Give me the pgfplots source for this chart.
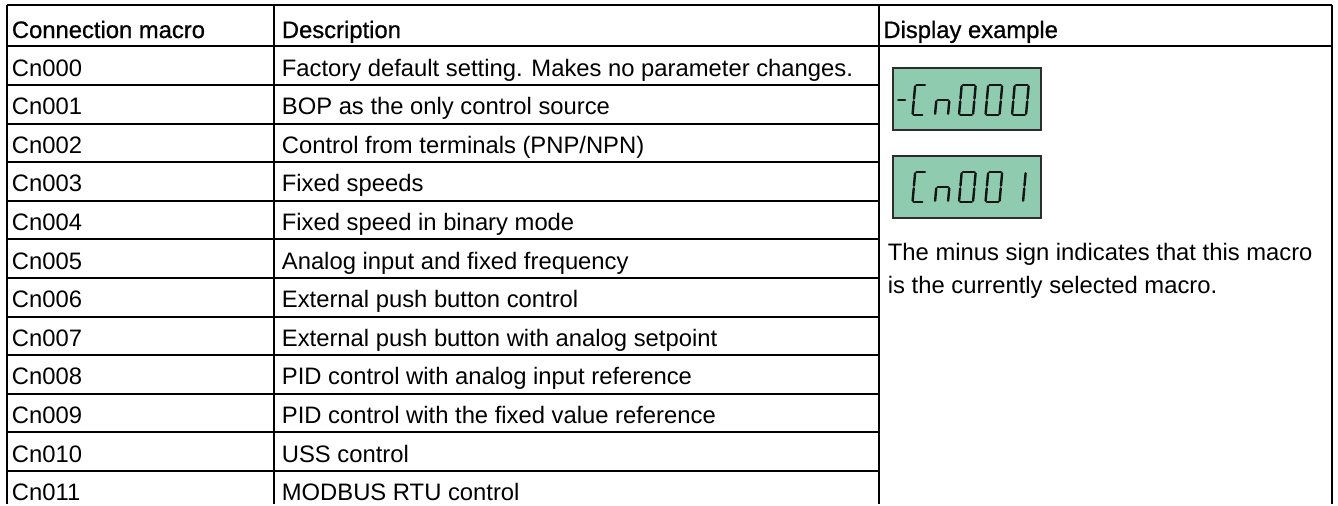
\documentclass[border=0pt]{standalone}
\usepackage{fontspec}
\setmainfont{Liberation Sans}
\newfontfamily\hdr{Liberation Sans}[FakeBold=0.8]
\usepackage{pgfplots}
\pgfplotsset{compat=1.18}
\definecolor{lcd}{RGB}{143,203,174}
\definecolor{lcdedge}{RGB}{45,45,45}
\definecolor{segc}{RGB}{20,20,20}
\tikzset{segstyle/.style={segc,line width=1.2pt,line cap=round}}
% one segment: x0, ybottom, u1, v1, u2, v2 (slanted)
\newcommand{\seg}[6]{\draw[segstyle] (axis cs:{#1+(#3)+0.09*(#4)},{#2-(#4)}) -- (axis cs:{#1+(#5)+0.09*(#6)},{#2-(#6)});}
\newcommand{\sA}[3]{\seg{#1}{#2}{1.3}{30}{#3-1.3}{30}}
\newcommand{\sB}[3]{\seg{#1}{#2}{#3}{28.7}{#3}{16.3}}
\newcommand{\sC}[3]{\seg{#1}{#2}{#3}{13.7}{#3}{1.3}}
\newcommand{\sD}[3]{\seg{#1}{#2}{1.3}{0}{#3-1.3}{0}}
\newcommand{\sE}[3]{\seg{#1}{#2}{0}{13.7}{0}{1.3}}
\newcommand{\sF}[3]{\seg{#1}{#2}{0}{28.7}{0}{16.3}}
\newcommand{\sG}[3]{\seg{#1}{#2}{1.3}{15}{#3-1.3}{15}}
\newcommand{\gZero}[2]{\sA{#1}{#2}{14}\sB{#1}{#2}{14}\sC{#1}{#2}{14}\sD{#1}{#2}{14}\sE{#1}{#2}{14}\sF{#1}{#2}{14}}
\newcommand{\gC}[2]{\sA{#1}{#2}{11}\sD{#1}{#2}{11}\sE{#1}{#2}{11}\sF{#1}{#2}{11}}
\newcommand{\gn}[2]{\sG{#1}{#2}{13}\sE{#1}{#2}{13}\sC{#1}{#2}{13}}
\newcommand{\gOne}[2]{\sB{#1}{#2}{11}\sC{#1}{#2}{11}}
\newcommand{\gMinus}[2]{\sG{#1}{#2}{9.5}}
\newcommand{\cell}[3]{\node[anchor=base west,inner sep=0pt] at (axis cs:#1,#2) {#3};}
\begin{document}
\begin{tikzpicture}[font=\fontsize{11.9}{16.5}\selectfont]
\begin{axis}[width=669pt,height=252pt,scale only axis,
  xmin=0,xmax=1338,ymin=0,ymax=504,y dir=reverse,hide axis,clip=false]
\path (axis cs:0,0) rectangle (axis cs:1338,504);
% table rules
\draw[black,line width=1pt] (axis cs:7,5) -- (axis cs:1332,5);
\draw[black,line width=1pt] (axis cs:7,46.4) -- (axis cs:1332,46.4);
\draw[black,line width=1pt] (axis cs:7,85) -- (axis cs:879,85);
\draw[black,line width=1pt] (axis cs:7,123.6) -- (axis cs:879,123.6);
\draw[black,line width=1pt] (axis cs:7,162.2) -- (axis cs:879,162.2);
\draw[black,line width=1pt] (axis cs:7,200.8) -- (axis cs:879,200.8);
\draw[black,line width=1pt] (axis cs:7,239.4) -- (axis cs:879,239.4);
\draw[black,line width=1pt] (axis cs:7,278) -- (axis cs:879,278);
\draw[black,line width=1pt] (axis cs:7,316.6) -- (axis cs:879,316.6);
\draw[black,line width=1pt] (axis cs:7,355.2) -- (axis cs:879,355.2);
\draw[black,line width=1pt] (axis cs:7,393.8) -- (axis cs:879,393.8);
\draw[black,line width=1pt] (axis cs:7,432.4) -- (axis cs:879,432.4);
\draw[black,line width=1pt] (axis cs:7,471) -- (axis cs:879,471);
\draw[black,line width=1pt] (axis cs:7,4.5) -- (axis cs:7,504);
\draw[black,line width=1pt] (axis cs:274,4.5) -- (axis cs:274,504);
\draw[black,line width=1pt] (axis cs:879,4.5) -- (axis cs:879,504);
\draw[black,line width=1pt] (axis cs:1332,4.5) -- (axis cs:1332,504);
% header
\cell{11.5}{38}{\hdr Connection macro}
\cell{281.5}{38}{\hdr Description}
\cell{883}{38}{\hdr Display example}
% body
\cell{11.5}{76}{Cn000}\cell{281.5}{76}{Factory default setting. Makes no parameter changes.}
\cell{11.5}{114.6}{Cn001}\cell{281.5}{114.6}{BOP as the only control source}
\cell{11.5}{153.2}{Cn002}\cell{281.5}{153.2}{Control from terminals (PNP/NPN)}
\cell{11.5}{191.8}{Cn003}\cell{281.5}{191.8}{Fixed speeds}
\cell{11.5}{230.4}{Cn004}\cell{281.5}{230.4}{Fixed speed in binary mode}
\cell{11.5}{269}{Cn005}\cell{281.5}{269}{Analog input and fixed frequency}
\cell{11.5}{307.6}{Cn006}\cell{281.5}{307.6}{External push button control}
\cell{11.5}{346.2}{Cn007}\cell{281.5}{346.2}{External push button with analog setpoint}
\cell{11.5}{384.8}{Cn008}\cell{281.5}{384.8}{PID control with analog input reference}
\cell{11.5}{423.4}{Cn009}\cell{281.5}{423.4}{PID control with the fixed value reference}
\cell{11.5}{462}{Cn010}\cell{281.5}{462}{USS control}
\cell{11.5}{500.6}{Cn011}\cell{281.5}{500.6}{MODBUS RTU control}
% display column text
\cell{887.5}{260}{The minus sign indicates that this macro}
\cell{887.5}{293}{is the currently selected macro.}
% LCD displays
\draw[fill=lcd,draw=lcdedge,line width=0.75pt] (axis cs:893,68) rectangle (axis cs:1041,130);
\draw[fill=lcd,draw=lcdedge,line width=0.75pt] (axis cs:893,156) rectangle (axis cs:1041,218);
\gMinus{895.5}{115}
\gC{912.5}{115}
\gn{935}{115}
\gZero{959}{115}
\gZero{985.5}{115}
\gZero{1012}{115}
\gC{912.5}{202}
\gn{935}{202}
\gZero{959}{202}
\gZero{985.5}{202}
\gOne{1012}{202}
\end{axis}
\end{tikzpicture}
\end{document}
